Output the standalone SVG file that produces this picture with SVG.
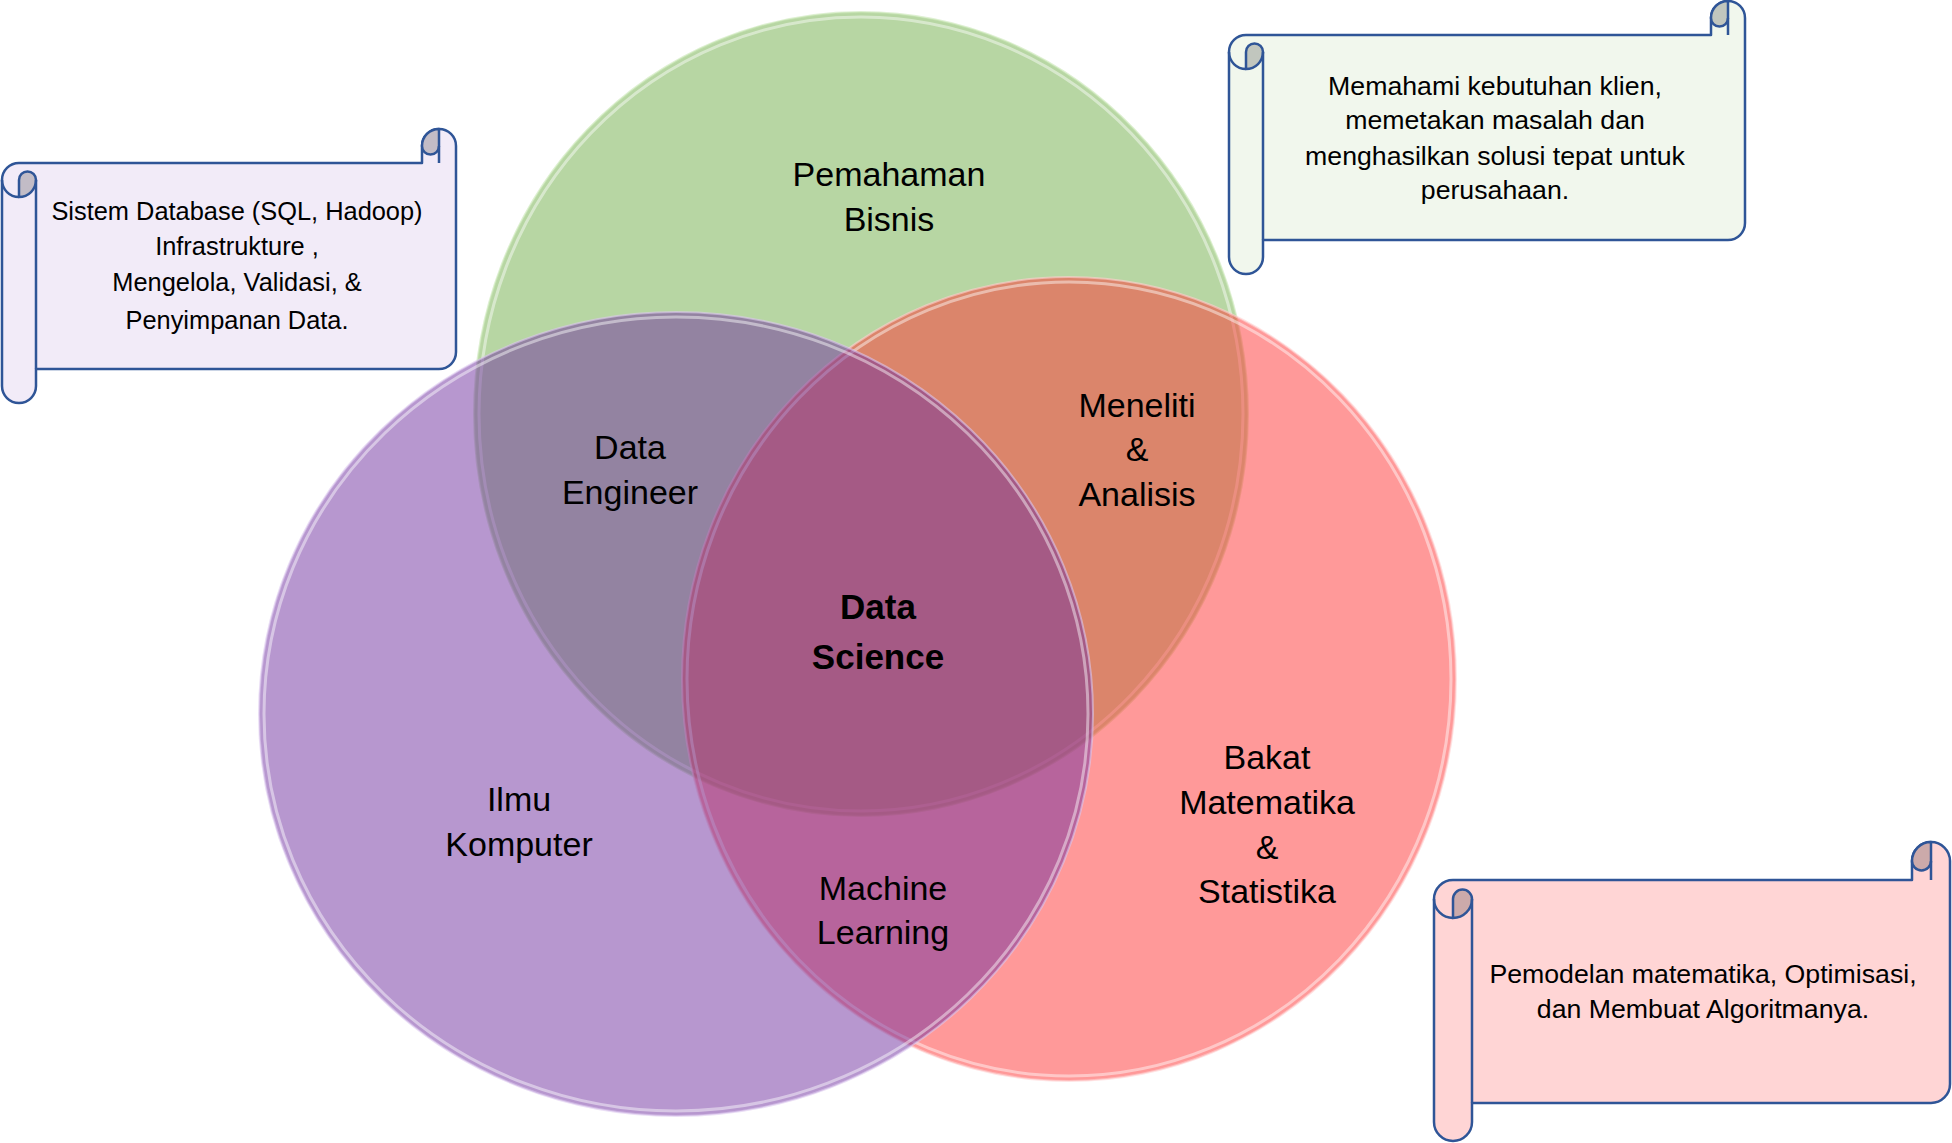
<svg xmlns="http://www.w3.org/2000/svg" width="1952" height="1143" viewBox="0 0 1952 1143">
<style>
.lbl{font-family:"Liberation Sans",Arial,sans-serif;font-size:34px;fill:#000;text-anchor:middle}
.bold{font-weight:bold;font-size:35px}
.note{font-family:"Liberation Sans",Arial,sans-serif;font-size:26.7px;fill:#000;text-anchor:middle}
.n1{font-size:25.4px}
.sc{stroke:#2F5597;stroke-width:2.5;stroke-linejoin:round}
.line{fill:none;stroke:#2F5597;stroke-width:2.5}
.rim{fill:none;stroke:#fff;stroke-width:3;stroke-opacity:0.45}
</style>
<rect width="1952" height="1143" fill="#fff"/>
<g id="circles">
  <g id="green-circle">
    <ellipse cx="861" cy="414" rx="387" ry="402" fill="#70AD47" fill-opacity="0.5" stroke="#C8E6B4" stroke-width="2" stroke-opacity="0.6"/>
    <ellipse class="rim" cx="861" cy="414" rx="382" ry="397"/>
  </g>
  <g id="red-circle">
    <ellipse cx="1069" cy="679" rx="387" ry="402" fill="#FF3333" fill-opacity="0.5" stroke="#FFD0D0" stroke-width="2" stroke-opacity="0.6"/>
    <ellipse class="rim" cx="1069" cy="679" rx="382" ry="397"/>
  </g>
  <g id="purple-circle">
    <ellipse cx="676" cy="714" rx="417" ry="402" fill="#7030A0" fill-opacity="0.5" stroke="#DCC8EE" stroke-width="2" stroke-opacity="0.6"/>
    <ellipse class="rim" cx="676" cy="714" rx="412" ry="397"/>
  </g>
</g>
<g id="labels">
  <g id="pemahaman-bisnis"><text class="lbl" x="889" y="186">Pemahaman</text><text class="lbl" x="889" y="231">Bisnis</text></g>
  <g id="data-engineer"><text class="lbl" x="630" y="459">Data</text><text class="lbl" x="630" y="504">Engineer</text></g>
  <g id="meneliti-analisis"><text class="lbl" x="1137" y="417">Meneliti</text><text class="lbl" x="1137" y="461">&amp;</text><text class="lbl" x="1137" y="506">Analisis</text></g>
  <g id="data-science"><text class="lbl bold" x="878" y="619">Data</text><text class="lbl bold" x="878" y="669">Science</text></g>
  <g id="ilmu-komputer"><text class="lbl" x="519" y="811">Ilmu</text><text class="lbl" x="519" y="856">Komputer</text></g>
  <g id="machine-learning"><text class="lbl" x="883" y="900">Machine</text><text class="lbl" x="883" y="944">Learning</text></g>
  <g id="bakat-matematika"><text class="lbl" x="1267" y="769">Bakat</text><text class="lbl" x="1267" y="814">Matematika</text><text class="lbl" x="1267" y="859">&amp;</text><text class="lbl" x="1267" y="903">Statistika</text></g>
</g>
<g id="scroll-1">
  <path class="sc" fill="#F2EBF8" d="M 2,180 A17,17 0 0 1 19,163 L 422,163 L 422,146 A17,17 0 0 1 456,146 L 456,352 A17,17 0 0 1 439,369 L 36,369 L 36,386 A17,17 0 0 1 2,386 Z"/>
  <path class="sc" fill="#C2BCC6" d="M 19,197 A17,17 0 0 0 36,180 A8.5,8.5 0 0 0 19,180 Z"/>
  <path class="sc" fill="#C2BCC6" d="M 439,129 A17,17 0 0 0 422,146 A8.5,8.5 0 0 0 439,146 Z"/>
  <path class="line" d="M 2,180 A17,17 0 0 0 19,197 M 36,180 L 36,369 M 439,146 L 439,163"/>
  <text class="note n1" x="237" y="220">Sistem Database (SQL, Hadoop)</text>
  <text class="note n1" x="237" y="255">Infrastrukture ,</text>
  <text class="note n1" x="237" y="291">Mengelola, Validasi, &amp;</text>
  <text class="note n1" x="237" y="329">Penyimpanan Data.</text>
</g>
<g id="scroll-2">
  <path class="sc" fill="#F1F7ED" d="M 1229,52 A17,17 0 0 1 1246,35 L 1711,35 L 1711,18 A17,17 0 0 1 1745,18 L 1745,223 A17,17 0 0 1 1728,240 L 1263,240 L 1263,257 A17,17 0 0 1 1229,257 Z"/>
  <path class="sc" fill="#C1C6BE" d="M 1246,69 A17,17 0 0 0 1263,52 A8.5,8.5 0 0 0 1246,52 Z"/>
  <path class="sc" fill="#C1C6BE" d="M 1728,1 A17,17 0 0 0 1711,18 A8.5,8.5 0 0 0 1728,18 Z"/>
  <path class="line" d="M 1229,52 A17,17 0 0 0 1246,69 M 1263,52 L 1263,240 M 1728,18 L 1728,35"/>
  <text class="note" x="1495" y="95">Memahami kebutuhan klien,</text>
  <text class="note" x="1495" y="129">memetakan masalah dan</text>
  <text class="note" x="1495" y="165">menghasilkan solusi tepat untuk</text>
  <text class="note" x="1495" y="199">perusahaan.</text>
</g>
<g id="scroll-3">
  <path class="sc" fill="#FFD5D5" d="M 1434,899 A19,19 0 0 1 1453,880 L 1912,880 L 1912,861 A19,19 0 0 1 1950,861 L 1950,1084 A19,19 0 0 1 1931,1103 L 1472,1103 L 1472,1122 A19,19 0 0 1 1434,1122 Z"/>
  <path class="sc" fill="#CCAAAA" d="M 1453,918 A19,19 0 0 0 1472,899 A9.5,9.5 0 0 0 1453,899 Z"/>
  <path class="sc" fill="#CCAAAA" d="M 1931,842 A19,19 0 0 0 1912,861 A9.5,9.5 0 0 0 1931,861 Z"/>
  <path class="line" d="M 1434,899 A19,19 0 0 0 1453,918 M 1472,899 L 1472,1103 M 1931,861 L 1931,880"/>
  <text class="note" x="1703" y="983">Pemodelan matematika, Optimisasi,</text>
  <text class="note" x="1703" y="1018">dan Membuat Algoritmanya.</text>
</g>
</svg>
